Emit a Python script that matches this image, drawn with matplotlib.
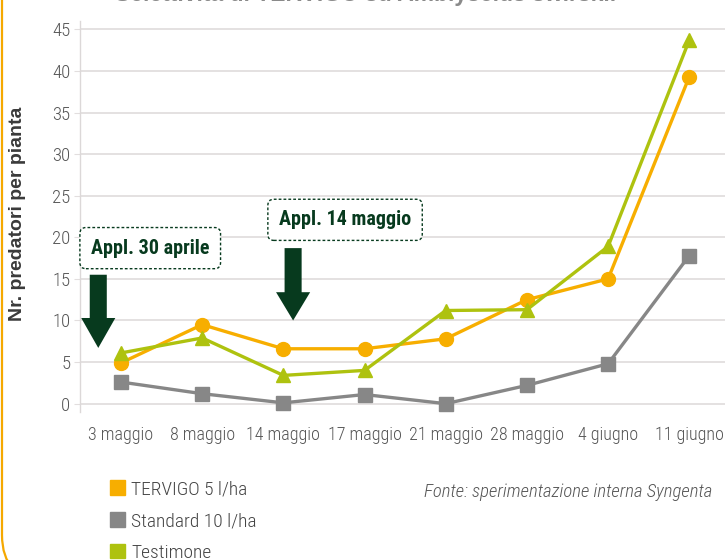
import matplotlib
matplotlib.use("Agg")
import matplotlib.pyplot as plt
from matplotlib.patches import Polygon, FancyBboxPatch, Patch
from matplotlib.transforms import IdentityTransform
from matplotlib import font_manager

categories = ["3 maggio", "8 maggio", "14 maggio", "17 maggio", "21 maggio",
              "28 maggio", "4 giugno", "11 giugno"]
tervigo = [4.9, 9.5, 6.6, 6.6, 7.8, 12.5, 15.0, 39.3]
standard = [2.6, 1.2, 0.1, 1.1, 0.0, 2.2, 4.8, 17.8]
testimone = [6.1, 7.9, 3.4, 4.0, 11.2, 11.3, 18.9, 43.7]
series_names = ["TERVIGO 5 l/ha", "Standard 10 l/ha", "Testimone"]
yticks = [0, 5, 10, 15, 20, 25, 30, 35, 40, 45]

ORANGE = "#F7AE00"
GRAY = "#878787"
GREEN = "#AEC20F"
DKGREEN = "#073A1E"

installed = {f.name for f in font_manager.fontManager.ttflist}
def pick(cands):
    for c in cands:
        if c in installed:
            return c
    return "DejaVu Sans"

NARROW = pick(["Roboto Condensed", "Archivo Narrow", "PT Sans Narrow", "Liberation Sans Narrow",
               "Liberation Sans"])
SANS = pick(["Liberation Sans", "Arimo", "DejaVu Sans"])

plt.rcParams["font.family"] = [NARROW, "DejaVu Sans"]

W, H = 725, 560
fig = plt.figure(figsize=(W / 100, H / 100), dpi=100)
ax = fig.add_axes([80 / W, (H - 412) / H, 645 / W, (412 - 21) / H])

x = list(range(len(categories)))
ax.plot(x, tervigo, color=ORANGE, lw=2.4, marker="o", ms=10, zorder=4)
ax.plot(x, standard, color=GRAY, lw=2.4, marker="s", ms=10, zorder=3)
ax.plot(x, testimone, color=GREEN, lw=2.4, marker="^", ms=10, zorder=5)

ax.set_xlim(-0.505, 7.44)
ax.set_ylim(-1, 46)
ax.set_yticks(yticks)
ax.set_yticklabels([str(v) for v in yticks])
ax.set_xticks(x)
ax.set_xticklabels(categories)
ax.grid(axis="y", color="#e2dede", lw=1.3)
ax.set_axisbelow(True)
for s in ["top", "right", "bottom"]:
    ax.spines[s].set_visible(False)
ax.spines["left"].set_color("#dcd8d8")
ax.spines["left"].set_linewidth(1.0)
ax.tick_params(axis="y", length=4, color="#e2dede", labelsize=13.5, labelcolor="#555555", pad=3)
ax.tick_params(axis="x", length=0, labelsize=13, labelcolor="#555555", pad=10)
for t in ax.get_xticklabels() + ax.get_yticklabels():
    t.set_fontweight("light")

def down_arrow(xc, ytop, yhead, ytip, shaft_w, head_w):
    pts = [(xc - shaft_w / 2, ytop), (xc + shaft_w / 2, ytop), (xc + shaft_w / 2, yhead),
           (xc + head_w / 2, yhead), (xc, ytip), (xc - head_w / 2, yhead),
           (xc - shaft_w / 2, yhead)]
    ax.add_patch(Polygon(pts, closed=True, color=DKGREEN, zorder=6, lw=0))

down_arrow(-0.28, 15.5, 10.3, 6.7, 0.21, 0.42)
down_arrow(2.12, 18.7, 13.4, 10.0, 0.21, 0.42)

box = dict(boxstyle="round,pad=0.55,rounding_size=0.3", fc="white", ec=DKGREEN,
           ls=(0, (2, 1.5)), lw=1.0)
ax.text(0.36, 18.7, "Appl. 30 aprile", ha="center", va="center", fontsize=14.5,
        fontweight="bold", color=DKGREEN, bbox=box, zorder=7)
ax.text(2.76, 22.1, "Appl. 14 maggio", ha="center", va="center", fontsize=14.5,
        fontweight="bold", color=DKGREEN, bbox=box, zorder=7)

fig.text(18 / W, 1 - 214 / H, "Nr. predatori per pianta", rotation=90, ha="center",
         va="center", fontsize=14, fontweight="bold", color="#3a3a3a",
         family=[SANS, "DejaVu Sans"])

fig.text(366 / W, 1 + 5 / H, "Selettività di TERVIGO su Amblyseius swirskii", ha="center",
         va="center", fontsize=16.5, fontweight="bold", color="#8a8a8a",
         family=[SANS, "DejaVu Sans"])

handles = [Patch(color=c) for c in (ORANGE, GRAY, GREEN)]
leg = fig.legend(handles, series_names, loc="upper left", bbox_to_anchor=(110 / W, 1 - 480 / H),
                 frameon=False, handlelength=0.78, handleheight=0.8, handletextpad=0.3,
                 labelspacing=0.7, fontsize=14, labelcolor="#444444", borderpad=0,
                 borderaxespad=0)
for t in leg.get_texts():
    t.set_fontweight("light")

fig.text(712 / W, 1 - 492 / H, "Fonte: sperimentazione interna Syngenta", ha="right",
         va="center", fontsize=13.5, style="italic", fontweight="light", color="#555555")

border = FancyBboxPatch((2, -20), 800, 700, boxstyle="round,pad=0,rounding_size=45",
                        transform=IdentityTransform(), fc="none", ec="#F5A800", lw=1.6,
                        figure=fig)
fig.patches.append(border)

fig.savefig("out.png", dpi=100)
